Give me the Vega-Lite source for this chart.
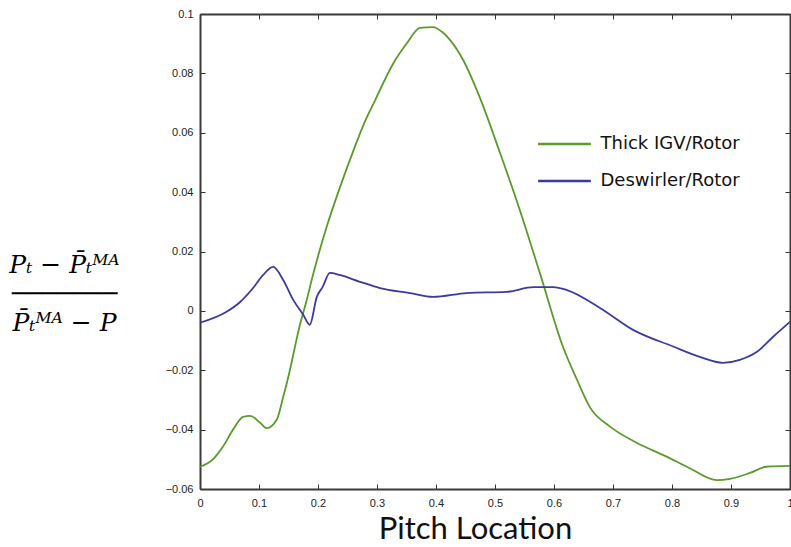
{
  "$schema": "https://vega.github.io/schema/vega-lite/v6.json",
  "width": 590,
  "height": 475,
  "autosize": "none",
  "padding": {"left": 200, "top": 14, "right": 1, "bottom": 58},
  "background": "white",
  "config": {"view": {"stroke": null}, "axis": {"grid": false}},
  "data": {
    "values": [
      {"series": "Thick IGV/Rotor", "pitch": 0.000, "value": -0.0525},
      {"series": "Thick IGV/Rotor", "pitch": 0.022, "value": -0.0500},
      {"series": "Thick IGV/Rotor", "pitch": 0.039, "value": -0.0457},
      {"series": "Thick IGV/Rotor", "pitch": 0.056, "value": -0.0400},
      {"series": "Thick IGV/Rotor", "pitch": 0.073, "value": -0.0357},
      {"series": "Thick IGV/Rotor", "pitch": 0.085, "value": -0.0354},
      {"series": "Thick IGV/Rotor", "pitch": 0.102, "value": -0.0377},
      {"series": "Thick IGV/Rotor", "pitch": 0.113, "value": -0.0395},
      {"series": "Thick IGV/Rotor", "pitch": 0.130, "value": -0.0367},
      {"series": "Thick IGV/Rotor", "pitch": 0.141, "value": -0.0290},
      {"series": "Thick IGV/Rotor", "pitch": 0.150, "value": -0.0220},
      {"series": "Thick IGV/Rotor", "pitch": 0.169, "value": -0.0050},
      {"series": "Thick IGV/Rotor", "pitch": 0.180, "value": 0.0030},
      {"series": "Thick IGV/Rotor", "pitch": 0.192, "value": 0.0125},
      {"series": "Thick IGV/Rotor", "pitch": 0.203, "value": 0.0205},
      {"series": "Thick IGV/Rotor", "pitch": 0.215, "value": 0.0285},
      {"series": "Thick IGV/Rotor", "pitch": 0.237, "value": 0.0415},
      {"series": "Thick IGV/Rotor", "pitch": 0.260, "value": 0.0540},
      {"series": "Thick IGV/Rotor", "pitch": 0.280, "value": 0.0640},
      {"series": "Thick IGV/Rotor", "pitch": 0.297, "value": 0.0710},
      {"series": "Thick IGV/Rotor", "pitch": 0.310, "value": 0.0765},
      {"series": "Thick IGV/Rotor", "pitch": 0.328, "value": 0.0835},
      {"series": "Thick IGV/Rotor", "pitch": 0.350, "value": 0.0900},
      {"series": "Thick IGV/Rotor", "pitch": 0.373, "value": 0.0953},
      {"series": "Thick IGV/Rotor", "pitch": 0.395, "value": 0.0956},
      {"series": "Thick IGV/Rotor", "pitch": 0.410, "value": 0.0940},
      {"series": "Thick IGV/Rotor", "pitch": 0.424, "value": 0.0912},
      {"series": "Thick IGV/Rotor", "pitch": 0.446, "value": 0.0845},
      {"series": "Thick IGV/Rotor", "pitch": 0.475, "value": 0.0715},
      {"series": "Thick IGV/Rotor", "pitch": 0.508, "value": 0.0535},
      {"series": "Thick IGV/Rotor", "pitch": 0.542, "value": 0.0340},
      {"series": "Thick IGV/Rotor", "pitch": 0.576, "value": 0.0128},
      {"series": "Thick IGV/Rotor", "pitch": 0.615, "value": -0.0120},
      {"series": "Thick IGV/Rotor", "pitch": 0.639, "value": -0.0232},
      {"series": "Thick IGV/Rotor", "pitch": 0.661, "value": -0.0325},
      {"series": "Thick IGV/Rotor", "pitch": 0.695, "value": -0.0390},
      {"series": "Thick IGV/Rotor", "pitch": 0.740, "value": -0.0444},
      {"series": "Thick IGV/Rotor", "pitch": 0.790, "value": -0.0490},
      {"series": "Thick IGV/Rotor", "pitch": 0.830, "value": -0.0530},
      {"series": "Thick IGV/Rotor", "pitch": 0.876, "value": -0.0570},
      {"series": "Thick IGV/Rotor", "pitch": 0.898, "value": -0.0566},
      {"series": "Thick IGV/Rotor", "pitch": 0.932, "value": -0.0546},
      {"series": "Thick IGV/Rotor", "pitch": 0.960, "value": -0.0525},
      {"series": "Thick IGV/Rotor", "pitch": 1.000, "value": -0.0522},
      {"series": "Deswirler/Rotor", "pitch": 0.000, "value": -0.0040},
      {"series": "Deswirler/Rotor", "pitch": 0.045, "value": -0.0003},
      {"series": "Deswirler/Rotor", "pitch": 0.068, "value": 0.0030},
      {"series": "Deswirler/Rotor", "pitch": 0.090, "value": 0.0077},
      {"series": "Deswirler/Rotor", "pitch": 0.107, "value": 0.0121},
      {"series": "Deswirler/Rotor", "pitch": 0.124, "value": 0.0148},
      {"series": "Deswirler/Rotor", "pitch": 0.141, "value": 0.0104},
      {"series": "Deswirler/Rotor", "pitch": 0.158, "value": 0.0037},
      {"series": "Deswirler/Rotor", "pitch": 0.175, "value": -0.0013},
      {"series": "Deswirler/Rotor", "pitch": 0.186, "value": -0.0047},
      {"series": "Deswirler/Rotor", "pitch": 0.198, "value": 0.0047},
      {"series": "Deswirler/Rotor", "pitch": 0.208, "value": 0.0081},
      {"series": "Deswirler/Rotor", "pitch": 0.220, "value": 0.0128},
      {"series": "Deswirler/Rotor", "pitch": 0.237, "value": 0.0121},
      {"series": "Deswirler/Rotor", "pitch": 0.271, "value": 0.0098},
      {"series": "Deswirler/Rotor", "pitch": 0.305, "value": 0.0077},
      {"series": "Deswirler/Rotor", "pitch": 0.356, "value": 0.0060},
      {"series": "Deswirler/Rotor", "pitch": 0.395, "value": 0.0047},
      {"series": "Deswirler/Rotor", "pitch": 0.452, "value": 0.0060},
      {"series": "Deswirler/Rotor", "pitch": 0.520, "value": 0.0064},
      {"series": "Deswirler/Rotor", "pitch": 0.565, "value": 0.0080},
      {"series": "Deswirler/Rotor", "pitch": 0.599, "value": 0.0080},
      {"series": "Deswirler/Rotor", "pitch": 0.622, "value": 0.0070},
      {"series": "Deswirler/Rotor", "pitch": 0.678, "value": 0.0010},
      {"series": "Deswirler/Rotor", "pitch": 0.734, "value": -0.0064},
      {"series": "Deswirler/Rotor", "pitch": 0.802, "value": -0.0120},
      {"series": "Deswirler/Rotor", "pitch": 0.847, "value": -0.0155},
      {"series": "Deswirler/Rotor", "pitch": 0.886, "value": -0.0175},
      {"series": "Deswirler/Rotor", "pitch": 0.915, "value": -0.0165},
      {"series": "Deswirler/Rotor", "pitch": 0.944, "value": -0.0138},
      {"series": "Deswirler/Rotor", "pitch": 0.971, "value": -0.0088},
      {"series": "Deswirler/Rotor", "pitch": 1.000, "value": -0.0037}
    ]
  },
  "layer": [
    {
      "mark": {"type": "line", "strokeWidth": 1.8, "interpolate": "monotone"},
      "encoding": {
        "x": {
          "field": "pitch", "type": "quantitative",
          "scale": {"domain": [0, 1], "nice": false, "zero": false},
          "axis": {
            "orient": "bottom",
            "values": [0, 0.1, 0.2, 0.3, 0.4, 0.5, 0.6, 0.7, 0.8, 0.9, 1],
            "format": "~g",
            "tickSize": -5, "tickColor": "#333", "tickWidth": 1,
            "domainColor": "#3a3a3a", "domainWidth": 2,
            "labelFont": "Liberation Sans", "labelFontSize": 11, "labelColor": "#222",
            "labelPadding": 13, "labelFlush": false,
            "title": "Pitch Location",
            "titleFont": "Lato", "titleFontSize": 31, "titleFontWeight": "normal", "titleColor": "#111",
            "titleX": 275, "titleY": 49, "titleAlign": "center", "titleBaseline": "alphabetic"
          }
        },
        "y": {
          "field": "value", "type": "quantitative",
          "scale": {"domain": [-0.06, 0.1], "nice": false, "zero": false},
          "axis": {
            "orient": "left",
            "values": [-0.06, -0.04, -0.02, 0, 0.02, 0.04, 0.06, 0.08, 0.1],
            "format": "~g",
            "tickSize": -5, "tickColor": "#333", "tickWidth": 1,
            "domainColor": "#3a3a3a", "domainWidth": 2,
            "labelFont": "Liberation Sans", "labelFontSize": 11, "labelColor": "#222",
            "labelPadding": 12, "labelFlush": false,
            "title": ["Pₜ − P̄ₜᴹᴬ", "───────", "P̄ₜᴹᴬ − P"],
            "titleAngle": 0, "titleAlign": "center", "titleBaseline": "middle",
            "titleX": -136, "titleY": 250,
            "titleFont": "DejaVu Serif", "titleFontStyle": "italic", "titleFontSize": 25,
            "titleFontWeight": "normal", "titleLineHeight": 29, "titleColor": "#000"
          }
        },
        "color": {
          "field": "series", "type": "nominal",
          "scale": {"domain": ["Thick IGV/Rotor", "Deswirler/Rotor"], "range": ["#5b9a2c", "#3b3b9e"]},
          "legend": {
            "orient": "none", "legendX": 346.5, "legendY": 112,
            "title": null, "padding": 0,
            "symbolType": "M-1.6,0H1.6", "symbolSize": 1089, "symbolStrokeWidth": 2.5,
            "labelFont": "DejaVu Sans", "labelFontSize": 18, "labelColor": "#111",
            "labelOffset": 18, "rowPadding": 10
          }
        }
      }
    },
    {
      "mark": {"type": "line", "opacity": 0},
      "encoding": {
        "x": {
          "field": "pitch", "type": "quantitative",
          "axis": {
            "orient": "top", "labels": false, "title": null,
            "values": [0, 0.1, 0.2, 0.3, 0.4, 0.5, 0.6, 0.7, 0.8, 0.9, 1],
            "tickSize": -5, "tickColor": "#333", "tickWidth": 1,
            "domainColor": "#3a3a3a", "domainWidth": 2
          }
        },
        "y": {
          "field": "value", "type": "quantitative",
          "axis": {
            "orient": "right", "labels": false, "title": null,
            "values": [-0.06, -0.04, -0.02, 0, 0.02, 0.04, 0.06, 0.08, 0.1],
            "tickSize": -5, "tickColor": "#333", "tickWidth": 1,
            "domainColor": "#3a3a3a", "domainWidth": 2
          }
        },
        "detail": {"field": "series", "type": "nominal"}
      }
    }
  ],
  "resolve": {"axis": {"x": "independent", "y": "independent"}}
}
